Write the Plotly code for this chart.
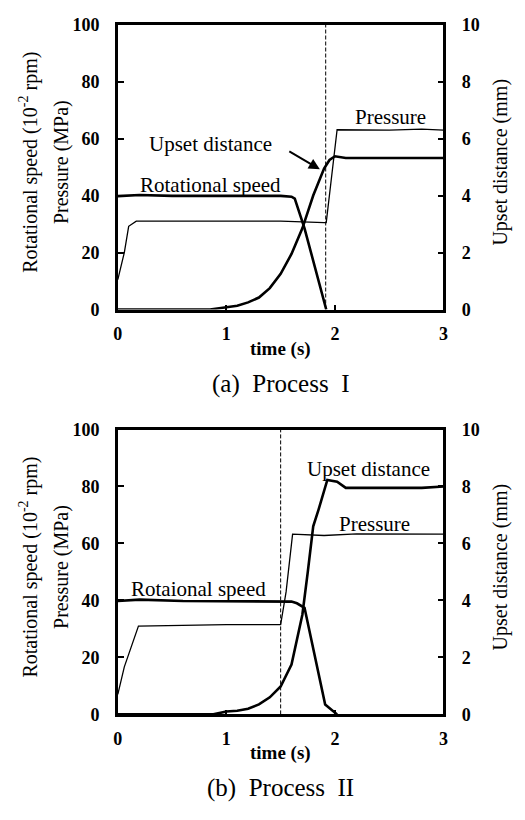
import plotly.graph_objects as go

# ---------------- data ----------------
# Process I
TIME_ROT_A = [0, 0.2, 0.5, 1.0, 1.5, 1.6, 1.63, 1.72, 1.92]
ROT_A = [39.8, 40.2, 39.9, 39.9, 39.9, 39.6, 38.9, 28.5, 0]
TIME_PRES_A = [0, 0.06, 0.1, 0.17, 0.5, 1.0, 1.5, 1.9, 1.92, 2.02, 2.5, 2.8, 3.0]
PRES_A = [10.5, 20, 29.2, 31.0, 31.0, 31.0, 31.0, 30.5, 30.5, 63.1, 63.0, 63.3, 63.0]
TIME_UPS_A = [0, 0.85, 1.0, 1.1, 1.2, 1.3, 1.4, 1.5, 1.6, 1.7, 1.8, 1.9, 1.95, 2.0, 2.1, 2.5, 3.0]
UPS_A = [0, 0, 0.08, 0.13, 0.25, 0.42, 0.75, 1.25, 1.95, 2.85, 4.0, 4.95, 5.25, 5.38, 5.32, 5.32, 5.32]
DASH_T_A = 1.915

# Process II
TIME_ROT_B = [0, 0.2, 0.6, 1.0, 1.5, 1.6, 1.65, 1.72, 1.91, 2.02]
ROT_B = [39.8, 40.3, 39.8, 39.8, 39.8, 39.6, 39.0, 37.4, 3.5, 0]
TIME_PRES_B = [0, 0.06, 0.19, 0.5, 1.0, 1.5, 1.55, 1.61, 1.9, 2.2, 3.0]
PRES_B = [7.0, 16.7, 31.0, 31.2, 31.5, 31.5, 43, 63.3, 62.8, 63.4, 63.3]
TIME_UPS_B = [0, 0.88, 1.0, 1.1, 1.2, 1.3, 1.4, 1.5, 1.6, 1.7, 1.75, 1.8, 1.85, 1.93, 2.02, 2.1, 2.5, 2.8, 3.0]
UPS_B = [0, 0, 0.1, 0.13, 0.2, 0.35, 0.6, 0.98, 1.75, 3.5, 5.0, 6.6, 7.2, 8.23, 8.17, 7.95, 7.95, 7.95, 8.0]
DASH_T_B = 1.5

X_TICKS = [0, 1, 2, 3]
Y_TICKS = [0, 20, 40, 60, 80, 100]
Y2_TICKS = [0, 2, 4, 6, 8, 10]

W, H = 525, 820
SERIF = "Liberation Serif"
TICK_FONT = dict(family=SERIF, size=18, color="black", weight="bold")
TITLE_FONT = dict(family=SERIF, size=20, color="black")
ANN_FONT = dict(family=SERIF, size=21, color="black")

fig = go.Figure()

def add_panel(xa, ya, ya2, t_rot, rot, t_pres, pres, t_ups, ups, dash_t):
    fig.add_trace(go.Scatter(x=[dash_t, dash_t], y=[0, 100], xaxis=xa, yaxis=ya, mode="lines",
                             line=dict(color="black", width=1, dash="4px,2px"), showlegend=False))
    fig.add_trace(go.Scatter(x=t_pres, y=pres, xaxis=xa, yaxis=ya, mode="lines",
                             line=dict(color="black", width=1.3), showlegend=False))
    fig.add_trace(go.Scatter(x=t_rot, y=rot, xaxis=xa, yaxis=ya, mode="lines",
                             line=dict(color="black", width=2.6), showlegend=False))
    fig.add_trace(go.Scatter(x=t_ups, y=ups, xaxis=xa, yaxis=ya2, mode="lines",
                             line=dict(color="black", width=2.6), showlegend=False))

add_panel("x", "y", "y2", TIME_ROT_A, ROT_A, TIME_PRES_A, PRES_A, TIME_UPS_A, UPS_A, DASH_T_A)
add_panel("x2", "y3", "y4", TIME_ROT_B, ROT_B, TIME_PRES_B, PRES_B, TIME_UPS_B, UPS_B, DASH_T_B)

L, R = 115, 447
TOP_A, BOT_A = 15, 307
TOP_B, BOT_B = 430, 722
xdom = [L / W, R / W]
ydomA = [1 - BOT_A / H, 1 - TOP_A / H]
ydomB = [1 - BOT_B / H, 1 - TOP_B / H]

def xax(anchor):
    return dict(domain=xdom, anchor=anchor, range=[0, 3], tickvals=X_TICKS, showgrid=False,
                zeroline=False, showline=True, linecolor="black", linewidth=2.5, mirror=True,
                ticks="inside", ticklen=5, tickwidth=1.5, tickcolor="black",
                tickfont=TICK_FONT, ticklabelstandoff=6)

def yax(anchor, dom):
    return dict(domain=dom, anchor=anchor, range=[0, 100], tickvals=Y_TICKS, showgrid=False,
                zeroline=False, showline=True, linecolor="black", linewidth=2.5, mirror=True,
                ticks="inside", ticklen=6, tickwidth=2, tickcolor="black",
                tickfont=TICK_FONT, ticklabelstandoff=12)

def y2ax(anchor, over):
    return dict(anchor=anchor, overlaying=over, side="right", range=[0, 10], tickvals=Y2_TICKS,
                showgrid=False, zeroline=False, showline=True, linecolor="black", linewidth=2.5,
                ticks="inside", ticklen=6, tickwidth=2, tickcolor="black",
                tickfont=TICK_FONT, ticklabelstandoff=12)

anns = []
def tx(text, x, y, xref, yref, font, angle=0, xanchor="center"):
    anns.append(dict(text=text, x=x, y=y, xref=xref, yref=yref, showarrow=False, font=font,
                     textangle=angle, xanchor=xanchor, yanchor="middle"))

# panel a labels
tx("Rotational speed", 0.854, 43.8, "x", "y", ANN_FONT)
tx("Upset distance", 0.85, 58.1, "x", "y", ANN_FONT)
tx("Pressure", 2.514, 67.7, "x", "y", ANN_FONT)
anns.append(dict(x=1.861, y=49.2, ax=1.566, ay=55.8, xref="x", yref="y", axref="x", ayref="y",
                 text="", showarrow=True, arrowhead=2, arrowsize=1.1, arrowwidth=2, arrowcolor="black"))
# panel b labels
tx("Rotaional speed", 0.745, 44.1, "x2", "y3", ANN_FONT)
tx("Upset distance", 2.31, 86.1, "x2", "y3", ANN_FONT)
tx("Pressure", 2.367, 66.9, "x2", "y3", ANN_FONT)

# axis titles
for top, bot, cap, capy in [(TOP_A, BOT_A, "(a)\u00a0\u00a0Process\u00a0\u00a0I", 383),
                            (TOP_B, BOT_B, "(b)\u00a0\u00a0Process\u00a0\u00a0II", 797)]:
    cy = 1 - ((top + bot) / 2 - 5) / H
    tx("Rotational speed (10<sup>-2</sup> rpm)", 24 / W, cy, "paper", "paper", TITLE_FONT, -90)
    tx("Pressure (MPa)", 57 / W, cy, "paper", "paper", TITLE_FONT, -90)
    tx("Upset distance (mm)", 505 / W, cy, "paper", "paper", TITLE_FONT, -90)
    tx("time (s)", 281 / W, 1 - (bot + 40) / H, "paper", "paper",
       dict(family=SERIF, size=19, color="black", weight="bold"))
    tx(cap, 281 / W, 1 - capy / H, "paper", "paper",
       dict(family=SERIF, size=25, color="black"))

fig.update_layout(
    width=W, height=H, margin=dict(l=0, r=0, t=0, b=0),
    paper_bgcolor="white", plot_bgcolor="white",
    xaxis=xax("y"), yaxis=yax("x", ydomA), yaxis2=y2ax("x", "y"),
    xaxis2=xax("y3"), yaxis3=yax("x2", ydomB), yaxis4=y2ax("x2", "y3"),
    annotations=anns, showlegend=False,
)

fig.write_html("out.html")
